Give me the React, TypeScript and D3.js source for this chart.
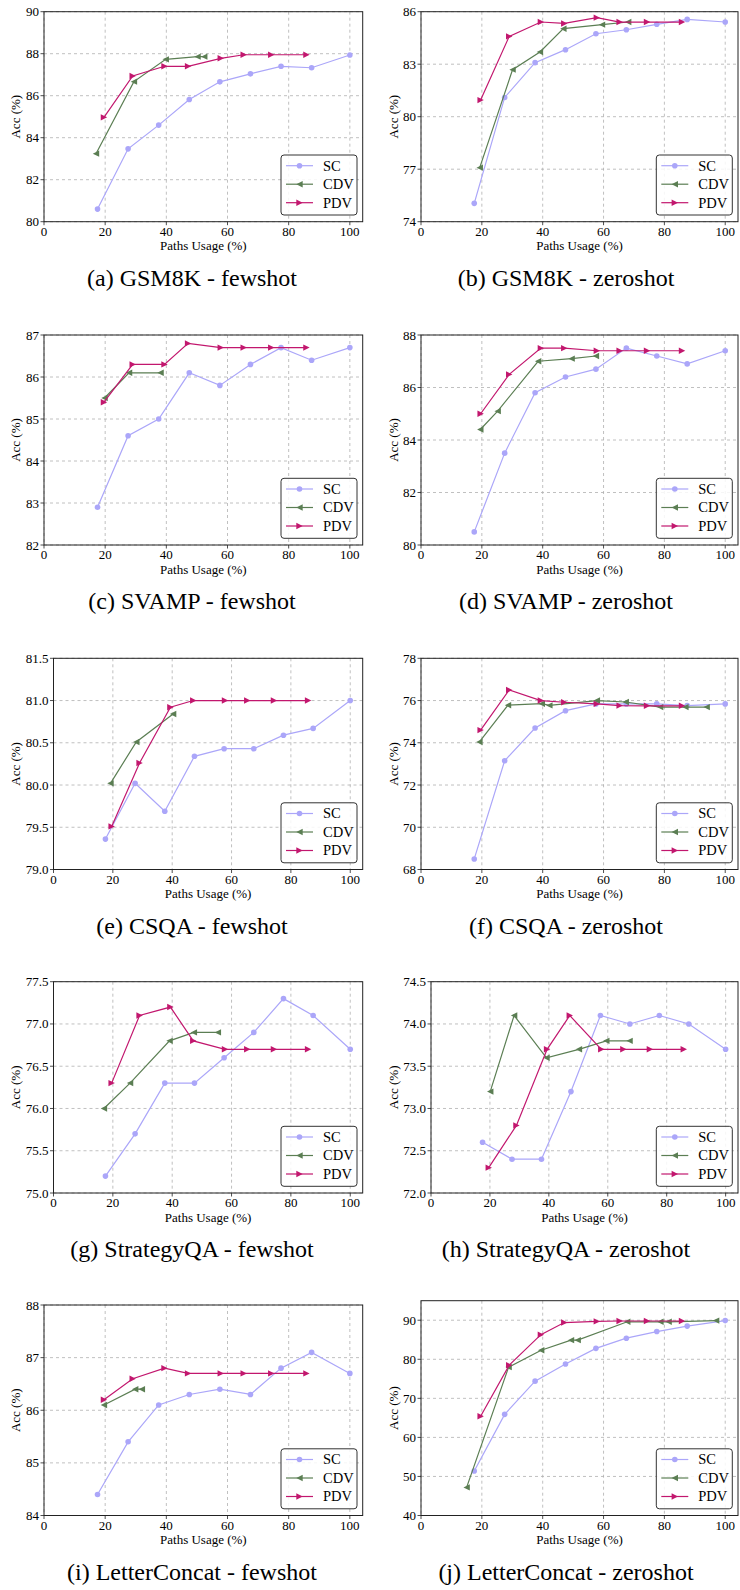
import React from 'react';
import * as d3 from 'd3';

// shared x positions (paths usage %)
const SC_X = [17.5, 27.5, 37.5, 47.5, 57.5, 67.5, 77.5, 87.5, 100];
const PDV_X = [19.6, 29.0, 39.4, 47.1, 57.8, 65.3, 74.3, 85.8];
const X_TICKS = [0, 20, 40, 60, 80, 100];

const titles = [
    '(a) GSM8K - fewshot',
    '(b) GSM8K - zeroshot',
    '(c) SVAMP - fewshot',
    '(d) SVAMP - zeroshot',
    '(e) CSQA - fewshot',
    '(f) CSQA - zeroshot',
    '(g) StrategyQA - fewshot',
    '(h) StrategyQA - zeroshot',
    '(i) LetterConcat - fewshot',
    '(j) LetterConcat - zeroshot',
];

// y ranges and tick labels
const yDomains = [
    [80, 90], [74, 86], [82, 87], [80, 88], [79, 81.5],
    [68, 78], [75, 77.5], [72, 74.5], [84, 88], [40, 95],
];
const yTicks = [
    [80, 82, 84, 86, 88, 90],
    [74, 77, 80, 83, 86],
    [82, 83, 84, 85, 86, 87],
    [80, 82, 84, 86, 88],
    [79.0, 79.5, 80.0, 80.5, 81.0, 81.5],
    [68, 70, 72, 74, 76, 78],
    [75.0, 75.5, 76.0, 76.5, 77.0, 77.5],
    [72.0, 72.5, 73.0, 73.5, 74.0, 74.5],
    [84, 85, 86, 87, 88],
    [40, 50, 60, 70, 80, 90],
];
const yDecimals = [0, 0, 0, 0, 1, 0, 1, 1, 0, 0];

// SC accuracy per panel
const scAcc = [
    [80.6, 83.47, 84.6, 85.82, 86.66, 87.04, 87.4, 87.33, 87.94],
    [75.05, 81.1, 83.09, 83.83, 84.74, 84.97, 85.28, 85.56, 85.41],
    [82.9, 84.6, 85.0, 86.1, 85.8, 86.3, 86.7, 86.4, 86.7],
    [80.5, 83.5, 85.8, 86.4, 86.7, 87.5, 87.2, 86.9, 87.4],
    [79.36, 80.02, 79.69, 80.34, 80.43, 80.43, 80.59, 80.67, 81.0],
    [68.5, 73.15, 74.7, 75.52, 75.84, 75.84, 75.84, 75.76, 75.84],
    [75.2, 75.7, 76.3, 76.3, 76.6, 76.9, 77.3, 77.1, 76.7],
    [72.6, 72.4, 72.4, 73.2, 74.1, 74.0, 74.1, 74.0, 73.7],
    [84.4, 85.4, 86.1, 86.3, 86.4, 86.3, 86.8, 87.1, 86.7],
    [51.4, 65.9, 74.4, 78.8, 82.8, 85.4, 87.1, 88.5, 89.9],
];

// CDV usage and accuracy per panel
const cdvUsage = [
    [17.0, 29.4, 39.8, 50.2, 52.4],
    [19.3, 30.1, 39.1, 46.8, 59.5, 68.1],
    [19.8, 27.8, 38.1],
    [19.5, 25.2, 38.5, 49.5, 57.5],
    [19.2, 27.9, 40.3],
    [19.2, 28.6, 39.7, 42.2, 57.8, 67.3, 78.6, 86.9, 93.9],
    [17.0, 25.8, 39.1, 47.3, 55.4],
    [20.1, 28.2, 39.2, 50.2, 59.5, 67.4],
    [19.6, 29.8, 32.0],
    [15.0, 28.8, 39.5, 49.3, 51.5, 67.8, 78.7, 81.4, 97.0],
];
const cdvAcc = [
    [83.24, 86.67, 87.73, 87.86, 87.86],
    [77.09, 82.69, 83.7, 85.03, 85.26, 85.41],
    [85.5, 86.1, 86.1],
    [84.4, 85.1, 87.0, 87.1, 87.2],
    [80.02, 80.51, 80.84],
    [74.04, 75.78, 75.85, 75.77, 76.0, 75.93, 75.69, 75.69, 75.69],
    [76.0, 76.3, 76.8, 76.9, 76.9],
    [73.2, 74.1, 73.6, 73.7, 73.8, 73.8],
    [86.1, 86.4, 86.4],
    [47.2, 78.0, 82.3, 84.9, 84.9, 89.6, 89.6, 89.6, 89.9],
];

// PDV accuracy per panel
const pdvAcc = [
    [84.97, 86.94, 87.4, 87.4, 87.78, 87.95, 87.95, 87.95],
    [80.95, 84.59, 85.41, 85.33, 85.66, 85.41, 85.41, 85.41],
    [85.4, 86.3, 86.3, 86.8, 86.7, 86.7, 86.7, 86.7],
    [85.0, 86.5, 87.5, 87.5, 87.4, 87.4, 87.4, 87.4],
    [79.51, 80.26, 80.92, 81.0, 81.0, 81.0, 81.0, 81.0],
    [74.6, 76.5, 76.0, 75.92, 75.84, 75.76, 75.75, 75.75],
    [76.3, 77.1, 77.2, 76.8, 76.7, 76.7, 76.7, 76.7],
    [72.3, 72.8, 73.7, 74.1, 73.7, 73.7, 73.7, 73.7],
    [86.2, 86.6, 86.8, 86.7, 86.7, 86.7, 86.7, 86.7],
    [65.4, 78.5, 86.3, 89.4, 89.7, 89.8, 89.8, 89.8],
];

const SERIES = ['SC', 'CDV', 'PDV'];
const COLORS = { SC: '#aba6f9', CDV: '#5b7e53', PDV: '#c2176e' };

const FONT = '"Times New Roman", "Liberation Serif", Times, serif';

// layout
const rowTop = [11.7, 335, 658.3, 981.7, 1305];
const rowBottom = [221.7, 545, 869.5, 1193, 1515.5];
const colLeft = [44, 421];
const colRight = [362.7, 738];
const ylabelX = [16.7, 395];
const captionX = [192, 566];
const X_MAX = 104.2;

function Marker({ kind, x, y, color }) {
    const s = 3.2;
    if (kind === 'SC') return <circle cx={x} cy={y} r={2.8} fill={color} />;
    const pts =
        kind === 'CDV'
            ? [[x - s, y], [x + s, y - s], [x + s, y + s]]
            : [[x + s, y], [x - s, y - s], [x - s, y + s]];
    return <polygon points={pts.map((p) => p.join(',')).join(' ')} fill={color} />;
}

function Panel({ idx }) {
    const row = Math.floor(idx / 2);
    const col = idx % 2;
    let left = colLeft[col];
    if (yDecimals[idx] === 1) left += col === 0 ? 9.5 : 10;
    const right = colRight[col];
    const top = idx === 9 ? 1300.7 : rowTop[row];
    const bottom = rowBottom[row];

    const x = d3.scaleLinear().domain([0, X_MAX]).range([left, right]);
    const y = d3.scaleLinear().domain(yDomains[idx]).range([bottom, top]);
    const fmt = d3.format(yDecimals[idx] ? '.1f' : 'd');
    const line = d3
        .line<[number, number]>()
        .x((d) => x(d[0]))
        .y((d) => y(d[1]));

    const series = {
        SC: SC_X.map((v, i) => [v, scAcc[idx][i]] as [number, number]),
        CDV: cdvUsage[idx].map((v, i) => [v, cdvAcc[idx][i]] as [number, number]),
        PDV: PDV_X.map((v, i) => [v, pdvAcc[idx][i]] as [number, number]),
    };

    const legW = 76;
    const legH = 60;
    const legX = right - 5.7 - legW;
    const legY = bottom - 6.7 - legH;
    const midX = (left + right) / 2;

    return (
        <g>
            {/* grid */}
            {X_TICKS.map((t) => (
                <line key={'gx' + t} x1={x(t)} x2={x(t)} y1={top} y2={bottom}
                    stroke="#b0b0b0" strokeWidth={0.8} strokeDasharray="3,3" />
            ))}
            {yTicks[idx].map((t) => (
                <line key={'gy' + t} x1={left} x2={right} y1={y(t)} y2={y(t)}
                    stroke="#b0b0b0" strokeWidth={0.8} strokeDasharray="3,3" />
            ))}

            {/* series */}
            {SERIES.map((name) => (
                <g key={name}>
                    <path d={line(series[name])} fill="none" stroke={COLORS[name]} strokeWidth={1.2} />
                    {series[name].map((d, i) => (
                        <Marker key={i} kind={name} x={x(d[0])} y={y(d[1])} color={COLORS[name]} />
                    ))}
                </g>
            ))}

            {/* frame */}
            <rect x={left} y={top} width={right - left} height={bottom - top} fill="none" stroke="#222" strokeWidth={1} />

            {/* x axis */}
            {X_TICKS.map((t) => (
                <g key={'xt' + t}>
                    <line x1={x(t)} x2={x(t)} y1={bottom} y2={bottom + 3.5} stroke="#222" strokeWidth={0.8} />
                    <text x={x(t)} y={bottom + 14} textAnchor="middle" fontSize={13} fontFamily={FONT}>{t}</text>
                </g>
            ))}
            <text x={midX} y={bottom + 28.5} textAnchor="middle" fontSize={13} fontFamily={FONT}>
                Paths Usage (%)
            </text>

            {/* y axis */}
            {yTicks[idx].map((t) => (
                <g key={'yt' + t}>
                    <line x1={left - 3.5} x2={left} y1={y(t)} y2={y(t)} stroke="#222" strokeWidth={0.8} />
                    <text x={left - 5} y={y(t) + 4.5} textAnchor="end" fontSize={13} fontFamily={FONT}>{fmt(t)}</text>
                </g>
            ))}
            <text
                transform={`translate(${ylabelX[col]},${(top + bottom) / 2}) rotate(-90)`}
                textAnchor="middle"
                dominantBaseline="middle"
                fontSize={13}
                fontFamily={FONT}
            >
                Acc (%)
            </text>

            {/* legend */}
            <rect x={legX} y={legY} width={legW} height={legH} rx={3} fill="white" fillOpacity={0.85}
                stroke="#333" strokeWidth={1} />
            {SERIES.map((name, i) => {
                const ly = legY + 10.7 + i * 18.5;
                return (
                    <g key={'leg' + name}>
                        <line x1={legX + 5} x2={legX + 32} y1={ly} y2={ly} stroke={COLORS[name]} strokeWidth={1.2} />
                        <Marker kind={name} x={legX + 18.5} y={ly} color={COLORS[name]} />
                        <text x={legX + 42} y={ly + 4.8} fontSize={14.5} fontFamily={FONT}>{name}</text>
                    </g>
                );
            })}

            {/* caption */}
            <text x={captionX[col]} y={bottom + 64} textAnchor="middle" fontSize={24} fontFamily={FONT}>
                {titles[idx]}
            </text>
        </g>
    );
}

export default function App() {
    return (
        <svg width={740} height={1590} style={{ position: 'absolute', left: 0, top: 0, background: 'white' }}>
            {titles.map((t, i) => (
                <Panel key={t} idx={i} />
            ))}
        </svg>
    );
}
